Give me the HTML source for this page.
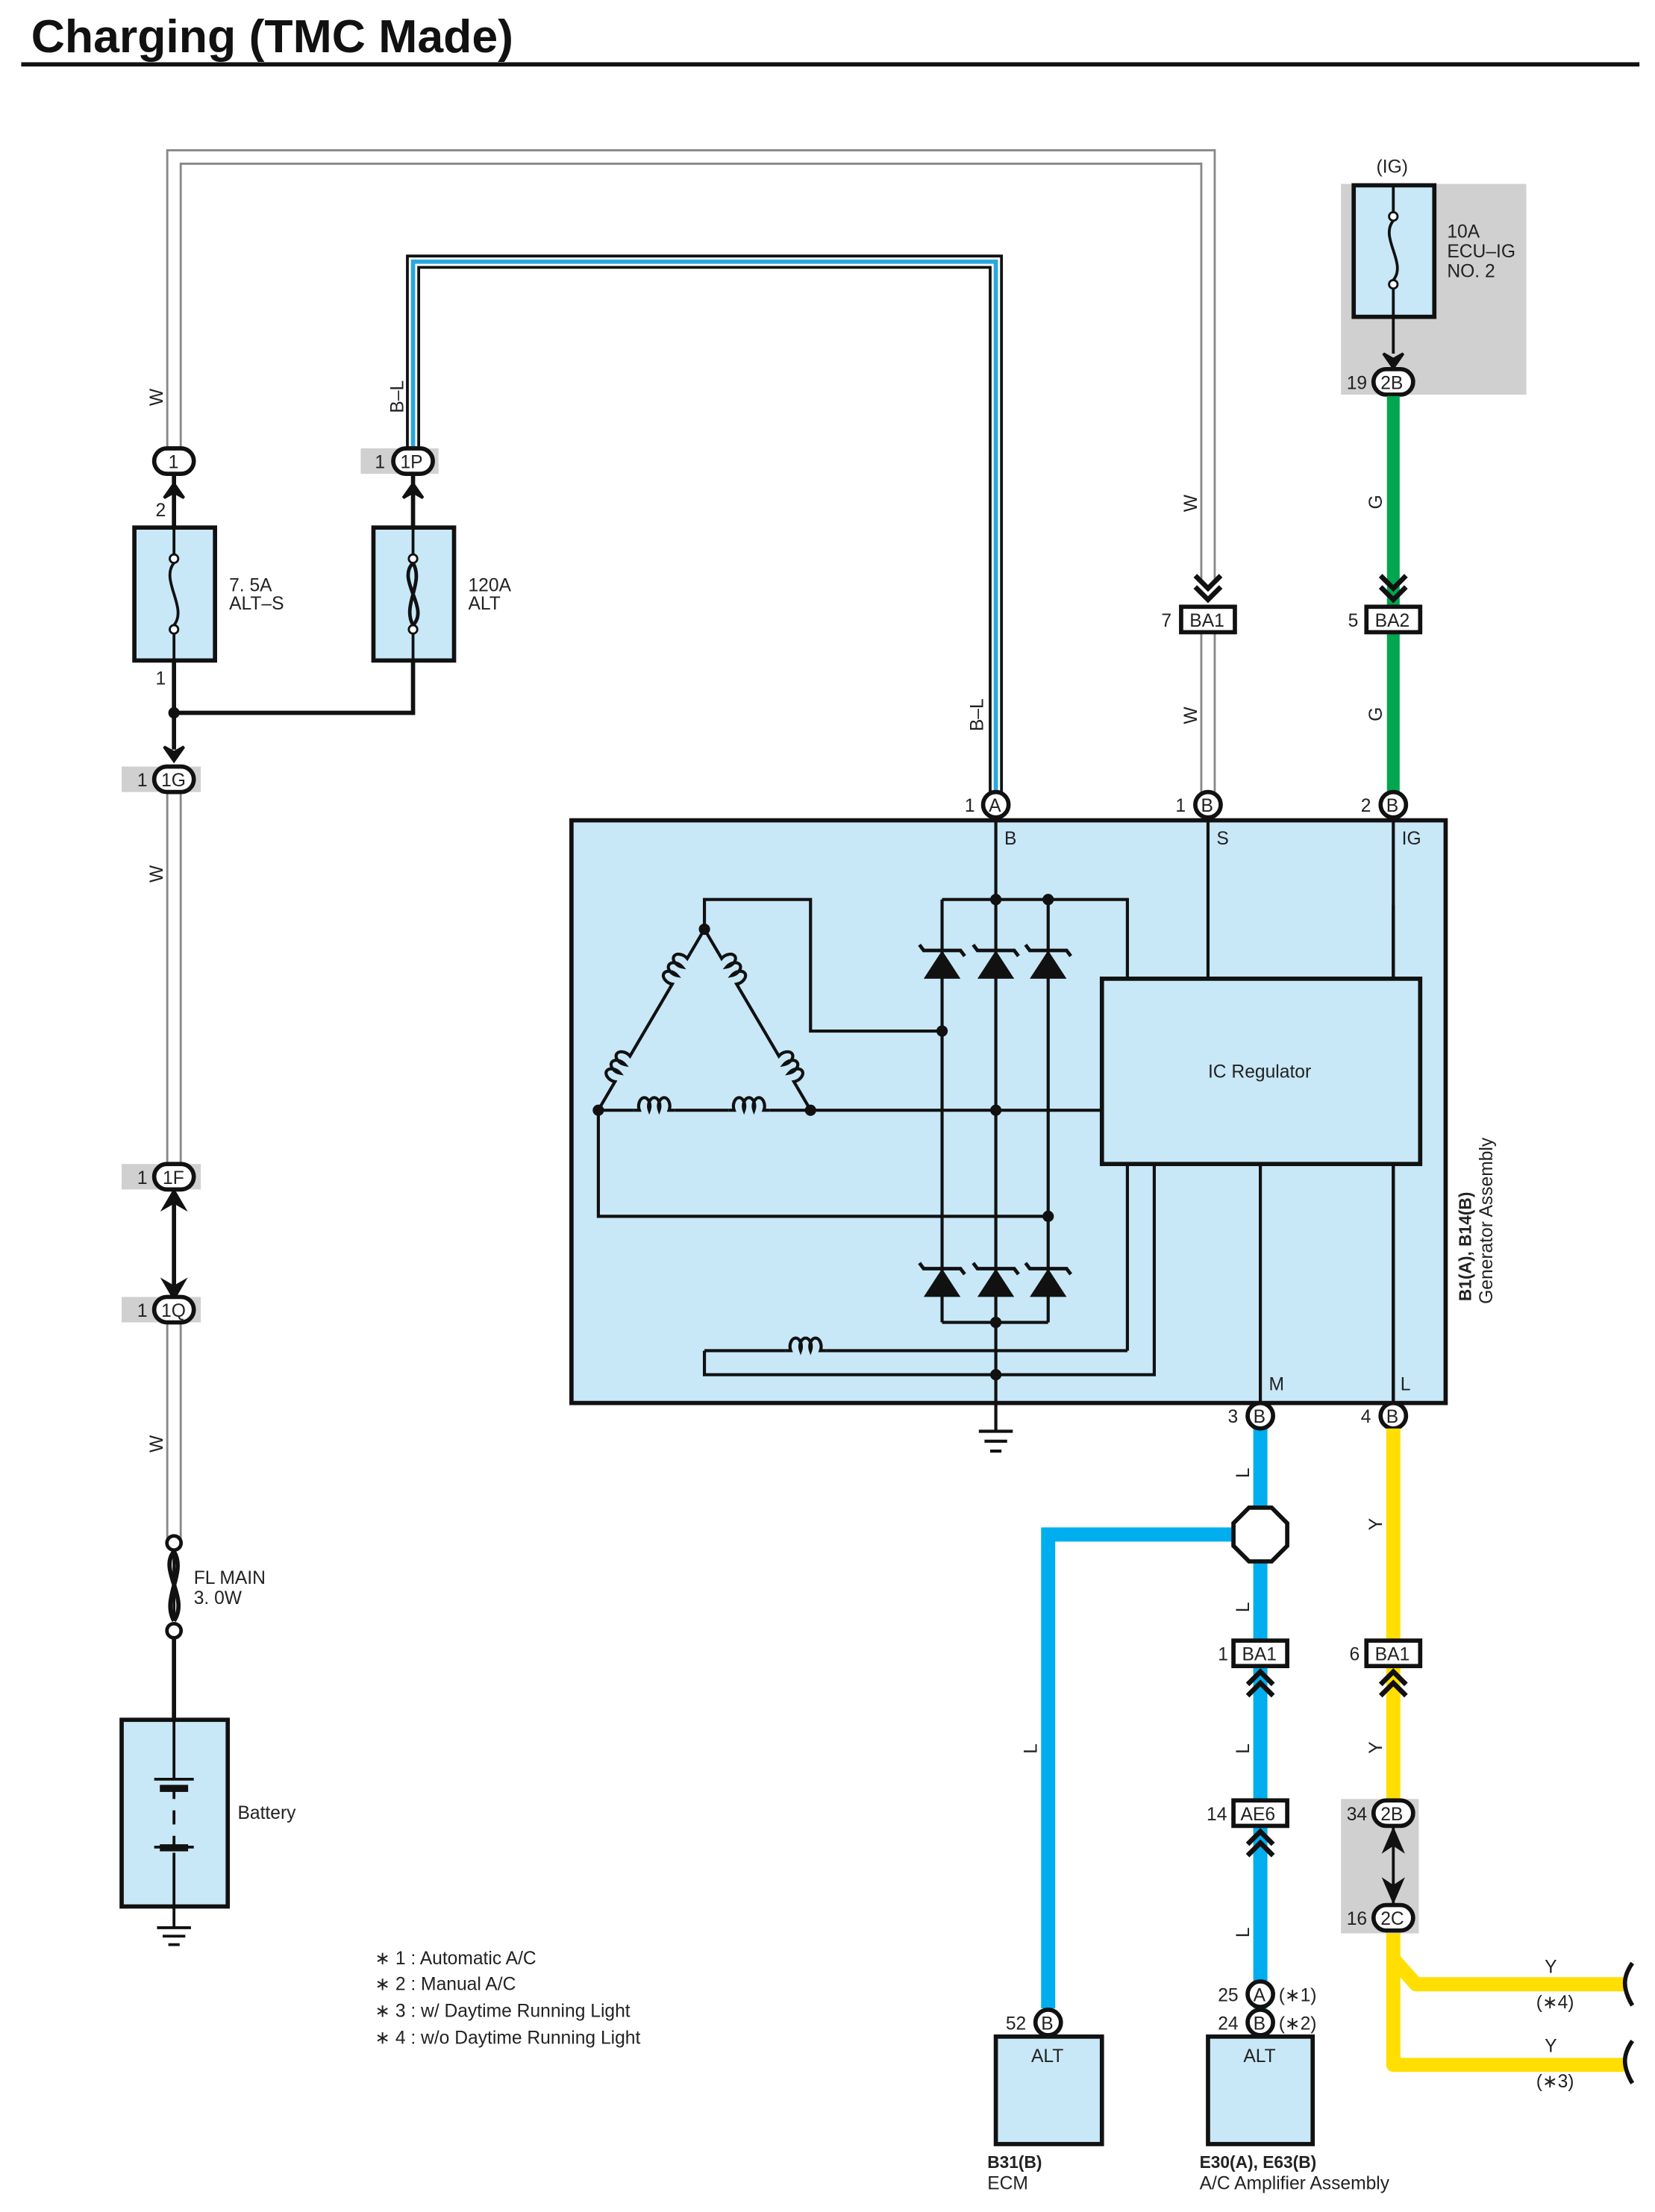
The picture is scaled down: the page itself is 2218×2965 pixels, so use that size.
<!DOCTYPE html>
<html><head><meta charset="utf-8"><style>
html,body{margin:0;padding:0;background:#fff}
svg{display:block}
text{font-family:"Liberation Sans Narrow","Liberation Sans",sans-serif;font-size:13px;fill:#222}
.b{font-family:"Liberation Sans",sans-serif;font-weight:bold}
</style></head><body>
<svg width="2218" height="2965" viewBox="0 0 1170 1564" xmlns="http://www.w3.org/2000/svg">
<defs>
<g id="ov"><rect x="-14" y="-9" width="28" height="18" rx="9" fill="#fff" stroke="#111" stroke-width="3"/></g>
<g id="ci"><circle r="9" fill="#fff" stroke="#111" stroke-width="3"/></g>
<g id="sq"><rect x="-19" y="-9" width="38" height="18" fill="#fff" stroke="#111" stroke-width="3"/></g>
<g id="dio"><polygon points="-13,10 13,10 0,-10" fill="#111"/><path d="M-16,-14 L-13,-10 L13,-10 L16,-6" fill="none" stroke="#111" stroke-width="2.5"/></g>
<g id="chd"><path d="M-9,-8 L0,1 L9,-8 M-9,0 L0,9 L9,0" fill="none" stroke="#111" stroke-width="3.5"/></g>
<g id="chu"><path d="M-9,8 L0,-1 L9,8 M-9,0 L0,-9 L9,0" fill="none" stroke="#111" stroke-width="3.5"/></g>
<path id="coil" d="M0,0 H4 a4,6 0 1 1 7,0 a4,6 0 1 1 7,0 a4,6 0 1 1 7,0 H29" fill="none" stroke="#111" stroke-width="2.2"/>
</defs>

<text x="22" y="37" class="b" style="font-size:33px;fill:#111">Charging (TMC Made)</text>
<rect x="15" y="44" width="1144" height="3" fill="#111"/>

<!-- W double wire -->
<path d="M123,318 V111 H854 V410" fill="none" stroke="#888" stroke-width="11"/>
<path d="M123,318 V111 H854 V410" fill="none" stroke="#fff" stroke-width="8"/>
<path d="M854,448 V560" fill="none" stroke="#888" stroke-width="11"/>
<path d="M854,448 V560" fill="none" stroke="#fff" stroke-width="8"/>
<path d="M123,560 V1088" fill="none" stroke="#888" stroke-width="11"/>
<path d="M123,560 V1088" fill="none" stroke="#fff" stroke-width="8"/>
<rect x="110" y="836" width="26" height="86" fill="#fff"/>
<path d="M123,842 V918" stroke="#111" stroke-width="3"/>
<path d="M116,854 L123,842 L130,854 L123,850Z M116,906 L123,918 L130,906 L123,910Z" fill="#111" stroke="#111" stroke-width="2"/>

<!-- B-L wire -->
<path d="M292,318 V185 H704 V560" fill="none" stroke="#111" stroke-width="10"/>
<path d="M292,318 V185 H704 V560" fill="none" stroke="#fff" stroke-width="6"/>
<path d="M292,318 V185 H704 V560" fill="none" stroke="#29a8e0" stroke-width="3"/>

<text transform="translate(115,287) rotate(-90)">W</text>
<text transform="translate(285,292) rotate(-90)">B–L</text>
<text transform="translate(846,362) rotate(-90)">W</text>
<text transform="translate(846,512) rotate(-90)">W</text>
<text transform="translate(695,517) rotate(-90)">B–L</text>
<text transform="translate(115,624) rotate(-90)">W</text>
<text transform="translate(115,1027) rotate(-90)">W</text>

<rect x="255" y="317" width="55" height="18" fill="#d0d0d0"/>
<rect x="86" y="542" width="56" height="18" fill="#d0d0d0"/>
<rect x="86" y="823" width="56" height="18" fill="#d0d0d0"/>
<rect x="86" y="917" width="56" height="18" fill="#d0d0d0"/>

<!-- left fuses -->
<path d="M123,336 V373 M123,467 V530 M292,336 V373 M292,467 V504 H123" fill="none" stroke="#111" stroke-width="3"/>
<path d="M116,352 L123,342 L130,352 L123,348Z M285,352 L292,342 L299,352 L292,348Z" fill="#111" stroke="#111" stroke-width="2"/>
<path d="M116,528 L123,538 L130,528 L123,532Z" fill="#111" stroke="#111" stroke-width="2"/>
<circle cx="123" cy="504" r="4" fill="#111"/>
<rect x="95" y="373" width="57" height="94" fill="#c8e8f8" stroke="#111" stroke-width="3"/>
<path d="M123,373 V392 M123,448 V467" stroke="#111" stroke-width="2"/>
<circle cx="123" cy="395" r="3" fill="#fff" stroke="#111" stroke-width="1.5"/>
<circle cx="123" cy="445" r="3" fill="#fff" stroke="#111" stroke-width="1.5"/>
<path d="M123,398 C113,410 133,430 123,442" fill="none" stroke="#111" stroke-width="2"/>
<rect x="264" y="373" width="57" height="94" fill="#c8e8f8" stroke="#111" stroke-width="3"/>
<path d="M292,373 V392 M292,448 V467" stroke="#111" stroke-width="2"/>
<circle cx="292" cy="395" r="3" fill="#fff" stroke="#111" stroke-width="1.5"/>
<circle cx="292" cy="445" r="3" fill="#fff" stroke="#111" stroke-width="1.5"/>
<path d="M292,398 C280,410 304,430 292,442 M292,398 C300,412 284,428 292,442" fill="none" stroke="#111" stroke-width="2.5"/>
<text x="162" y="418">7. 5A</text><text x="162" y="431">ALT–S</text>
<text x="331" y="418">120A</text><text x="331" y="431">ALT</text>
<text x="110" y="365">2</text><text x="110" y="484">1</text>

<use href="#ov" x="123" y="326"/><text x="119" y="331">1</text>
<use href="#ov" x="292" y="326"/><text x="283" y="331">1P</text><text x="265" y="331">1</text>
<use href="#ov" x="123" y="551"/><text x="114" y="556">1G</text><text x="97" y="556">1</text>
<use href="#ov" x="123" y="832"/><text x="115" y="837">1F</text><text x="97" y="837">1</text>
<use href="#ov" x="123" y="926"/><text x="114" y="931">1Q</text><text x="97" y="931">1</text>

<!-- FL main -->
<path d="M123,1097 V1146" stroke="#111" stroke-width="2"/>
<circle cx="123" cy="1091" r="5" fill="#fff" stroke="#111" stroke-width="2.5"/>
<circle cx="123" cy="1153" r="5" fill="#fff" stroke="#111" stroke-width="2.5"/>
<path d="M123,1097 C112,1110 134,1130 123,1146 M123,1097 C132,1112 114,1130 123,1146" fill="none" stroke="#111" stroke-width="3"/>
<text x="137" y="1120">FL MAIN</text><text x="137" y="1134">3. 0W</text>
<path d="M123,1158 V1216" stroke="#111" stroke-width="3"/>
<rect x="86" y="1216" width="75" height="132" fill="#c8e8f8" stroke="#111" stroke-width="3"/>
<path d="M123,1216 V1258 M109,1258 H137 M123,1264 V1272 M123,1280 V1290 M123,1298 V1306 M109,1306 H137 M123,1310 V1348" stroke="#111" stroke-width="2"/>
<rect x="113" y="1262" width="20" height="5" fill="#111"/><rect x="113" y="1304" width="20" height="5" fill="#111"/>
<path d="M123,1348 V1362 M111,1363 H135 M115,1369 H131 M119,1375 H127" stroke="#111" stroke-width="2"/>
<text x="168" y="1286">Battery</text>

<!-- IG fuse -->
<rect x="948" y="130" width="131" height="149" fill="#d0d0d0"/>
<text x="973" y="122">(IG)</text>
<rect x="957" y="131" width="57" height="93" fill="#c8e8f8" stroke="#111" stroke-width="3"/>
<path d="M985,131 V150 M985,204 V250" stroke="#111" stroke-width="2"/>
<circle cx="985" cy="153" r="3" fill="#fff" stroke="#111" stroke-width="1.5"/>
<circle cx="985" cy="201" r="3" fill="#fff" stroke="#111" stroke-width="1.5"/>
<path d="M985,156 C975,168 995,186 985,198" fill="none" stroke="#111" stroke-width="2"/>
<path d="M978,250 L985,260 L992,250 L985,254Z" fill="#111" stroke="#111" stroke-width="2"/>
<text x="1023" y="168">10A</text><text x="1023" y="182">ECU–IG</text><text x="1023" y="196">NO. 2</text>
<use href="#ov" x="985" y="270"/><text x="976" y="275">2B</text><text x="952" y="275">19</text>

<!-- green -->
<path d="M985,280 V429 M985,448 V560" stroke="#00a650" stroke-width="9"/>
<text transform="translate(977,360) rotate(-90)">G</text>
<text transform="translate(977,510) rotate(-90)">G</text>
<use href="#chd" x="985" y="415"/><use href="#chd" x="854" y="415"/>
<use href="#sq" x="854" y="438"/><text x="841" y="443">BA1</text><text x="821" y="443">7</text>
<use href="#sq" x="985" y="438"/><text x="972" y="443">BA2</text><text x="953" y="443">5</text>

<!-- generator -->
<rect x="404" y="580" width="618" height="412" fill="#c8e8f8" stroke="#111" stroke-width="3"/>
<use href="#ci" x="704" y="569"/><text x="699" y="574">A</text><text x="682" y="574">1</text>
<use href="#ci" x="854" y="569"/><text x="849" y="574">B</text><text x="831" y="574">1</text>
<use href="#ci" x="985" y="569"/><text x="980" y="574">B</text><text x="962" y="574">2</text>
<text x="710" y="597">B</text><text x="860" y="597">S</text><text x="991" y="597">IG</text>
<g fill="none" stroke="#111" stroke-width="2.2">
<path d="M704,578 V1012 M854,578 V692 M985,578 V992"/>
<path d="M666,636 H797 V692 M666,636 V935 M741,636 V935 M666,935 H741"/>
<path d="M498,657 V636 H573 V729 H666"/>
<path d="M573,785 H778 M423,785 V860 H741"/>
<path d="M498,955 V972 H816 V823 M891,823 V992 M797,955 V823"/>
<path d="M498,955 H555 M584,955 H797"/>
<path d="M423,785 H448 M477,785 H515 M544,785 H573"/>
<path d="M692,1012 H716 M696,1019 H712 M700,1026 H708"/>
</g>
<!-- coils -->
<use href="#coil" transform="translate(448,785)"/>
<use href="#coil" transform="translate(515,785)"/>
<use href="#coil" transform="translate(555,955)"/>
<g transform="translate(498,657) rotate(120.4)">
<path d="M0,0 H20 M49,0 H100 M129,0 H148" stroke="#111" stroke-width="2.2"/>
<use href="#coil" transform="translate(20,0) scale(1,-1)"/>
<use href="#coil" transform="translate(100,0) scale(1,-1)"/>
</g>
<g transform="translate(498,657) rotate(59.6)">
<path d="M0,0 H20 M49,0 H100 M129,0 H148" stroke="#111" stroke-width="2.2"/>
<use href="#coil" transform="translate(20,0)"/>
<use href="#coil" transform="translate(100,0)"/>
</g>
<rect x="779" y="692" width="225" height="131" fill="#c8e8f8" stroke="#111" stroke-width="3"/>
<text x="854" y="762">IC Regulator</text>
<path d="M985,692 V640 M985,823 V992" stroke="#111" stroke-width="2.2"/>
<g fill="#111">
<circle cx="498" cy="657" r="4"/><circle cx="423" cy="785" r="4"/><circle cx="573" cy="785" r="4"/>
<circle cx="704" cy="636" r="4"/><circle cx="741" cy="636" r="4"/><circle cx="666" cy="729" r="4"/>
<circle cx="704" cy="785" r="4"/><circle cx="741" cy="860" r="4"/><circle cx="704" cy="935" r="4"/><circle cx="704" cy="972" r="4"/>
</g>
<use href="#dio" x="666" y="682"/><use href="#dio" x="704" y="682"/><use href="#dio" x="741" y="682"/>
<use href="#dio" x="666" y="907"/><use href="#dio" x="704" y="907"/><use href="#dio" x="741" y="907"/>
<text x="897" y="983">M</text><text x="990" y="983">L</text>
<text transform="translate(1040,920) rotate(-90)" class="b" style="font-size:12px">B1(A), B14(B)</text>
<text transform="translate(1055,922) rotate(-90)">Generator Assembly</text>

<!-- blue L -->
<path d="M891,1010 V1420 M891,1085 H741 V1420" fill="none" stroke="#00aeef" stroke-width="10"/>
<polygon points="883,1066 899,1066 910,1077 910,1093 899,1104 883,1104 872,1093 872,1077" fill="#fff" stroke="#111" stroke-width="3"/>
<use href="#ci" x="891" y="1001"/><text x="886" y="1006">B</text><text x="868" y="1006">3</text>
<use href="#ci" x="985" y="1001"/><text x="980" y="1006">B</text><text x="962" y="1006">4</text>
<text transform="translate(883,1045) rotate(-90)">L</text>
<text transform="translate(883,1140) rotate(-90)">L</text>
<text transform="translate(883,1240) rotate(-90)">L</text>
<text transform="translate(883,1370) rotate(-90)">L</text>
<text transform="translate(733,1240) rotate(-90)">L</text>
<use href="#chu" x="891" y="1191"/><use href="#chu" x="891" y="1304"/>
<use href="#sq" x="891" y="1169"/><text x="878" y="1174">BA1</text><text x="861" y="1174">1</text>
<use href="#sq" x="891" y="1282"/><text x="877" y="1287">AE6</text><text x="853" y="1287">14</text>

<!-- yellow -->
<path d="M985,1010 V1460 H1148 M985,1385 L1001,1403 H1148" fill="none" stroke="#ffde00" stroke-width="10" stroke-linejoin="round"/>
<rect x="948" y="1272" width="55" height="95" fill="#d0d0d0"/>
<path d="M985,1290 V1348" stroke="#111" stroke-width="2"/>
<path d="M979,1308 L985,1294 L991,1308 L985,1304Z M979,1330 L985,1344 L991,1330 L985,1334Z" fill="#111" stroke="#111" stroke-width="2"/>
<use href="#ov" x="985" y="1282"/><text x="976" y="1287">2B</text><text x="952" y="1287">34</text>
<use href="#ov" x="985" y="1356"/><text x="976" y="1361">2C</text><text x="952" y="1361">16</text>
<use href="#chu" x="985" y="1191"/>
<use href="#sq" x="985" y="1169"/><text x="972" y="1174">BA1</text><text x="954" y="1174">6</text>
<text transform="translate(977,1082) rotate(-90)">Y</text>
<text transform="translate(977,1240) rotate(-90)">Y</text>
<path d="M1154,1388 c-7,10 -7,18 0,30 M1154,1443 c-7,10 -7,18 0,30" fill="none" stroke="#111" stroke-width="3"/>
<text x="1092" y="1395">Y</text><text x="1086" y="1420">(∗4)</text>
<text x="1092" y="1451">Y</text><text x="1086" y="1476">(∗3)</text>

<!-- ECM -->
<use href="#ci" x="741" y="1430"/><text x="736" y="1435">B</text><text x="711" y="1435">52</text>
<rect x="704" y="1440" width="75" height="76" fill="#c8e8f8" stroke="#111" stroke-width="3"/>
<text x="729" y="1458">ALT</text>
<text x="698" y="1533" class="b" style="font-size:12px">B31(B)</text><text x="698" y="1548">ECM</text>
<!-- A/C -->
<use href="#ci" x="891" y="1410"/><text x="886" y="1415">A</text><text x="861" y="1415">25</text><text x="904" y="1415">(∗1)</text>
<use href="#ci" x="891" y="1430"/><text x="886" y="1435">B</text><text x="861" y="1435">24</text><text x="904" y="1435">(∗2)</text>
<rect x="854" y="1440" width="74" height="76" fill="#c8e8f8" stroke="#111" stroke-width="3"/>
<text x="879" y="1458">ALT</text>
<text x="848" y="1533" class="b" style="font-size:12px">E30(A), E63(B)</text><text x="848" y="1548">A/C Amplifier Assembly</text>

<!-- notes -->
<text x="265" y="1389">∗ 1 : Automatic A/C</text>
<text x="265" y="1407">∗ 2 : Manual A/C</text>
<text x="265" y="1426">∗ 3 : w/ Daytime Running Light</text>
<text x="265" y="1445">∗ 4 : w/o Daytime Running Light</text>
</svg>
</body></html>
